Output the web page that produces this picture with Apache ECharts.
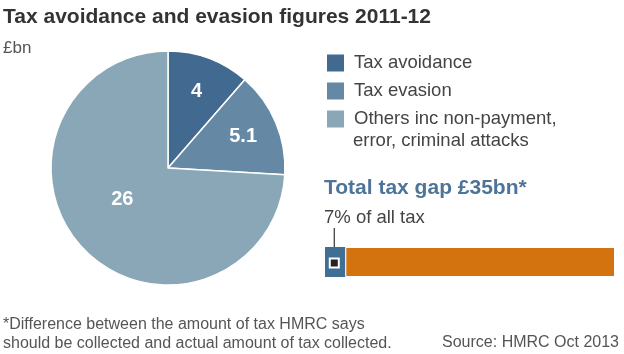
<!DOCTYPE html>
<html><head><meta charset="utf-8">
<script src="https://cdn.jsdelivr.net/npm/echarts@6/dist/echarts.min.js"></script>
<style>html,body{margin:0;padding:0;background:#fff}#c{width:624px;height:354px}</style>
</head><body><div id="c"></div>
<script>
var categories = ['Tax avoidance', 'Tax evasion', 'Others inc non-payment, error, criminal attacks'];
var legendLine1 = ['Tax avoidance', 'Tax evasion', 'Others inc non-payment,'];
var legendLine2 = 'error, criminal attacks';
var values = [4, 5.1, 26];
var sliceColors = ['#42698f', '#6589a5', '#8aa7b8'];
var shareCategories = ['Tax gap', 'Rest of tax'];
var shareValues = [7, 93];
var shareColors = ['#3f6f95', '#d3730f'];

var font = 'Liberation Sans, Arial, sans-serif';
var chart = echarts.init(document.getElementById('c'));
var pieData = categories.map(function (n, i) {
  var d = { name: n, value: values[i], itemStyle: { color: sliceColors[i] } };
  if (i === 2) d.label = { offset: [-1, -11] };
  return d;
});
function t(text, left, top, size, opts) {
  var o = { text: text, left: left, top: top, padding: 0,
    textStyle: { fontFamily: font, fontSize: size, fontWeight: 'normal', color: '#444' } };
  if (opts) { for (var k in opts) o.textStyle[k] = opts[k]; }
  return o;
}
var titles = [
  t('Tax avoidance and evasion figures 2011-12', 3, 7, 21, { fontWeight: 'bold', color: '#333' }),
  t('£bn', 3, 40, 17, { color: '#555' }),
  t(legendLine2, 353, 131, 18.5),
  t('Total tax gap £35bn*', 324, 178, 21, { fontWeight: 'bold', color: '#4d7499' }),
  t('7% of all tax', 324, 208, 18.5),
  t('*Difference between the amount of tax HMRC says\nshould be collected and actual amount of tax collected.', 3, 315, 16, { color: '#555', lineHeight: 19 })
];
var src = t('Source: HMRC Oct 2013', null, 335, 16, { color: '#555' });
delete src.left; src.right = 5;
titles.push(src);

chart.setOption({
  animation: false,
  textStyle: { fontFamily: font },
  title: titles,
  legend: {
    orient: 'vertical', left: 320, top: 47, itemWidth: 19, itemHeight: 19, itemGap: 6,
    icon: 'rect', selectedMode: false,
    data: categories,
    formatter: function (n) { return legendLine1[categories.indexOf(n)]; },
    textStyle: { fontFamily: font, fontSize: 18.5, color: '#444', lineHeight: 22, padding: [0, 0, 0, 4] }
  },
  grid: { left: 325, top: 247, width: 290, height: 30 },
  xAxis: { type: 'value', min: 0, max: 100, show: false },
  yAxis: { type: 'category', data: ['gap'], show: false },
  series: [
    { type: 'pie', center: [168, 168], radius: 117, startAngle: 90, clockwise: true,
      data: pieData, silent: true,
      itemStyle: { borderColor: '#fff', borderWidth: 1.5 },
      label: { show: true, position: 'inside', formatter: function (p) { return p.dataIndex === 2 ? p.value : ''; },
        color: '#fff', fontSize: 20, fontWeight: 'bold', fontFamily: font },
      labelLine: { show: false } },
    { type: 'pie', center: [168, 168], radius: [40, 117], startAngle: 90, clockwise: true,
      data: pieData.map(function (d) { return { name: d.name, value: d.value, itemStyle: { color: 'rgba(0,0,0,0)' } }; }),
      silent: true, z: 3, legendHoverLink: false,
      label: { show: true, position: 'inside', formatter: function (p) { return p.dataIndex < 2 ? p.value : ''; },
        color: '#fff', fontSize: 20, fontWeight: 'bold', fontFamily: font },
      labelLine: { show: false } },
    { type: 'bar', stack: 's', barWidth: 30, data: [shareValues[0]], silent: true,
      itemStyle: { color: shareColors[0] },
      markPoint: { symbol: 'rect', symbolSize: 9, silent: true, label: { show: false },
        itemStyle: { color: '#222', borderColor: '#fff', borderWidth: 2 },
        data: [{ coord: [shareValues[0] / 2 - 0.3, 'gap'], symbolOffset: [0, 1] }] } },
    { type: 'bar', stack: 's', barWidth: 30, data: [shareValues[1]], silent: true,
      itemStyle: { color: shareColors[1], borderColor: '#fff', borderWidth: 1 } }
  ]
});
var p = chart.convertToPixel({ xAxisIndex: 0, yAxisIndex: 0 }, [shareValues[0] / 2 - 0.3, 'gap']);
chart.setOption({
  graphic: [{ type: 'line', shape: { x1: p[0], y1: 228, x2: p[0], y2: p[1] - 3 },
    style: { stroke: '#333', lineWidth: 1.2 }, z: 1 }]
});
</script></body></html>
